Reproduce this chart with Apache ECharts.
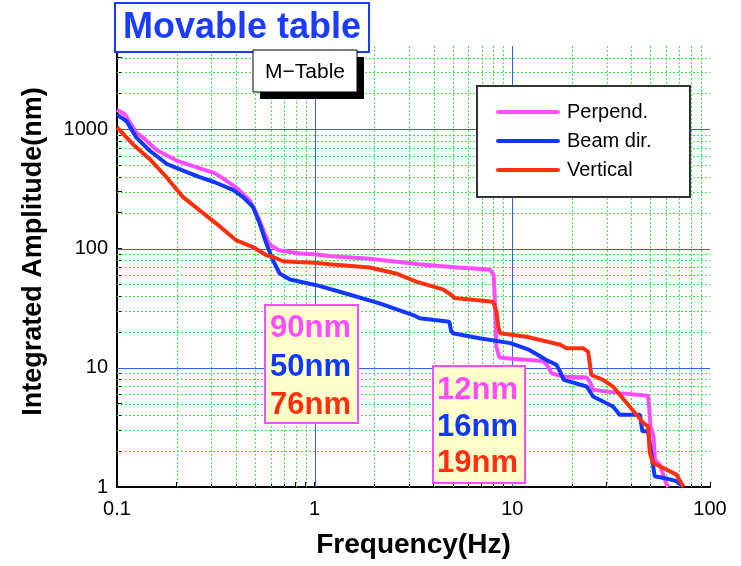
<!DOCTYPE html>
<html>
<head>
<meta charset="utf-8">
<script src="https://cdn.jsdelivr.net/npm/echarts@6/dist/echarts.min.js"></script>
<style>
  html, body { margin: 0; padding: 0; background: #fff; }
  #chart { width: 741px; height: 566px; }
</style>
</head>
<body>
<div id="chart"></div>
<script>
// Integrated amplitude spectra of the movable table (three directions)
const perpFreq = [0.1, 0.109, 0.125, 0.135, 0.158, 0.2, 0.252, 0.312, 0.357, 0.402, 0.47, 0.517, 0.559, 0.594, 0.66, 0.842, 1.0, 1.19, 1.9, 3.38, 5.3, 7.7, 8.05, 8.2, 8.3, 8.6, 10, 14.3, 15.0, 15.8, 18.2, 23.8, 24.8, 25.6, 34.9, 48.6, 49.3, 50, 51.8, 52.6, 55.6, 60, 61.4];
const perpAmp  = [1460, 1346, 944, 857, 673, 547, 481, 429, 372, 324, 253, 184, 133, 107, 96.8, 90.8, 89.5, 86.7, 82, 74, 69.5, 66.7, 60, 30, 15, 12.2, 11.9, 11.4, 10.5, 9.0, 8.43, 8.3, 7.5, 6.53, 6.13, 5.82, 4.5, 3.22, 2.66, 1.70, 1.54, 1.08, 1.0];

const beamFreq = [0.1, 0.112, 0.125, 0.146, 0.178, 0.216, 0.262, 0.312, 0.386, 0.434, 0.488, 0.527, 0.57, 0.615, 0.665, 0.75, 1.02, 1.34, 2.13, 3.15, 3.4, 4.8, 4.9, 5.0, 6.83, 9.78, 12.2, 14.8, 16.7, 17.5, 18.2, 23.8, 25.6, 32.3, 34.9, 44.2, 45.5, 48.6, 50.5, 52.5, 60, 67.6, 73.5];
const beamAmp  = [1327, 1166, 857, 664, 514, 451, 397, 360, 311, 270, 223, 162, 110, 79.8, 61.8, 55, 49.3, 43.4, 34.7, 27.7, 26, 24.3, 20.5, 19.5, 17.7, 16.1, 14.1, 11.66, 10.6, 9.2, 7.92, 6.96, 5.74, 4.73, 4.04, 4.04, 2.93, 2.93, 1.9, 1.23, 1.18, 1.12, 1.0];

const vertFreq = [0.1, 0.12, 0.146, 0.178, 0.216, 0.262, 0.318, 0.402, 0.488, 0.57, 0.616, 0.692, 0.81, 1.0, 1.19, 1.9, 2.58, 3.29, 4.46, 4.9, 5.1, 6.5, 7.99, 8.3, 8.5, 8.67, 11.8, 17.5, 18.8, 22.8, 24.2, 25.1, 28.8, 32.3, 37.9, 46.1, 48.6, 49.6, 51.5, 57.7, 67.6, 73.5];
const vertAmp  = [1040, 755, 565, 397, 270, 209, 162, 117, 103, 87.9, 85, 78.3, 77.2, 76, 74, 69.4, 61.8, 52.6, 45.4, 41, 38.5, 37, 35.8, 30, 22, 19.5, 18.2, 15.6, 14.6, 14.6, 13.6, 8.7, 7.92, 6.96, 5.07, 3.44, 3.22, 1.93, 1.59, 1.45, 1.27, 1.0];

const seriesNames = ['Perpend.', 'Beam dir.', 'Vertical'];
const seriesColors = ['#ff4cff', '#1038ff', '#ff3010'];

// Axis ticks and labels
const xTickValues = [0.1, 0.2, 0.3, 0.4, 0.5, 0.6, 0.7, 0.8, 0.9, 1, 2, 3, 4, 5, 6, 7, 8, 9, 10, 20, 30, 40, 50, 60, 70, 80, 90, 100];
const xLabelValues = [0.1, 1, 10, 100];
const xMajorGrid = [1, 10];
const yTickValues = [1, 2, 3, 4, 5, 6, 7, 8, 9, 10, 20, 30, 40, 50, 60, 70, 80, 90, 100, 200, 300, 400, 500, 600, 700, 800, 900, 1000, 2000, 3000, 4000, 5000];
const yLabelValues = [1, 10, 100, 1000];
const yMajorGrid = [10, 100, 1000];

// Annotated amplitudes at 1 Hz and 10 Hz
const at1HzLabels = ['90nm', '50nm', '76nm'];
const at10HzLabels = ['12nm', '16nm', '19nm'];

const X_MIN = 0.1, X_MAX = 100, Y_MIN = 1, Y_MAX = 5000;

const xMinorGrid = xTickValues.filter(v => v !== X_MIN && v !== X_MAX && xMajorGrid.indexOf(v) < 0);
const yMinorGrid = yTickValues.filter(v => v !== Y_MIN && v !== Y_MAX && yMajorGrid.indexOf(v) < 0);

const FONT = 'Liberation Sans, Arial, sans-serif';

function pairs(fs, vs) { return fs.map((f, i) => [f, vs[i]]); }

// Grid lines as a custom series: [x, y, orientation] (0 = vertical at x, 1 = horizontal at y)
function gridLines(name, xs, ys, color, dash) {
  const data = xs.map(v => [v, Y_MIN, 0]).concat(ys.map(v => [X_MIN, v, 1]));
  return {
    name: name, type: 'custom', z: 1, silent: true, animation: false,
    encode: { x: 0, y: 1 },
    data: data,
    renderItem: function (params, api) {
      const cs = params.coordSys;
      let shape;
      if (api.value(2) === 0) {
        const x = Math.round(api.coord([api.value(0), Y_MIN])[0]) + 0.5;
        shape = { x1: x, y1: cs.y, x2: x, y2: cs.y + cs.height };
      } else {
        const y = Math.round(api.coord([X_MIN, api.value(1)])[1]) + 0.5;
        shape = { x1: cs.x, y1: y, x2: cs.x + cs.width, y2: y };
      }
      return { type: 'line', shape: shape, style: { stroke: color, lineWidth: 1, lineDash: dash } };
    }
  };
}

const dataSeries = [
  pairs(perpFreq, perpAmp),
  pairs(beamFreq, beamAmp),
  pairs(vertFreq, vertAmp)
].map((d, i) => ({
  name: seriesNames[i], type: 'line', data: d, z: 3,
  symbol: 'none', showSymbol: false, animation: false, clip: true,
  lineStyle: { width: 4, color: seriesColors[i] },
  itemStyle: { color: seriesColors[i] }
}));

function valueBox(x, y, w, h, texts, textX, textYs) {
  const children = [{
    type: 'rect', zlevel: 1, z: 20, shape: { x: x, y: y, width: w, height: h },
    style: { fill: '#ffffcc', stroke: '#ff4cff', lineWidth: 2 }
  }];
  texts.forEach((t, i) => children.push({
    type: 'text', zlevel: 1, z: 21,
    style: { x: textX, y: textYs[i], text: t, fill: seriesColors[i], fontFamily: FONT, fontWeight: 'bold', fontSize: 31, align: 'left', verticalAlign: 'middle' }
  }));
  return { type: 'group', zlevel: 1, z: 20, children: children };
}

// Legend frame with a line sample and name per series
function legendBox(x, y, w, h, lineX1, lineX2, textX, rowYs) {
  const children = [{
    type: 'rect', zlevel: 1, z: 20, shape: { x: x, y: y, width: w, height: h },
    style: { fill: '#fff', stroke: '#333', lineWidth: 2 }
  }];
  seriesNames.forEach((name, i) => {
    children.push({
      type: 'line', zlevel: 1, z: 21, shape: { x1: lineX1, y1: rowYs[i], x2: lineX2, y2: rowYs[i] },
      style: { stroke: seriesColors[i], lineWidth: 4, lineCap: 'round' }
    });
    children.push({
      type: 'text', zlevel: 1, z: 21,
      style: { x: textX, y: rowYs[i], text: name, fill: '#000', fontFamily: FONT, fontSize: 20, align: 'left', verticalAlign: 'middle' }
    });
  });
  return { type: 'group', zlevel: 1, z: 20, children: children };
}

const chart = echarts.init(document.getElementById('chart'), null, { renderer: 'canvas' });
chart.setOption({
  backgroundColor: '#fff',
  animation: false,
  title: {
    text: 'Movable table', left: 115, top: 3, padding: [7, 8, 6, 8],
    borderColor: '#1a3cff', borderWidth: 2, backgroundColor: '#fff', z: 10,
    textStyle: { fontFamily: FONT, fontWeight: 'bold', fontSize: 36, color: '#1a3cff' }
  },
  grid: { left: 117, right: 31, top: 46, bottom: 79, containLabel: false },
  xAxis: {
    type: 'log', logBase: 10, min: X_MIN, max: X_MAX,
    name: 'Frequency(Hz)', nameLocation: 'middle', nameGap: 44,
    nameTextStyle: { fontFamily: FONT, fontWeight: 'bold', fontSize: 28, color: '#000' },
    axisLine: { lineStyle: { color: '#000', width: 2 } },
    axisTick: { inside: true, length: 5, customValues: xTickValues, lineStyle: { color: '#000', width: 1 } },
    axisLabel: { customValues: xLabelValues, margin: 12, fontFamily: FONT, fontSize: 20, color: '#000', formatter: v => String(v) },
    splitLine: { show: false }, minorTick: { show: false }, minorSplitLine: { show: false }
  },
  yAxis: {
    type: 'log', logBase: 10, min: Y_MIN, max: Y_MAX,
    name: 'Integrated Amplitude(nm)', nameLocation: 'middle', nameGap: 70,
    nameTextStyle: { fontFamily: FONT, fontWeight: 'bold', fontSize: 27, color: '#000', padding: [0, 0, 0, 30] },
    axisLine: { lineStyle: { color: '#000', width: 2 } },
    axisTick: { inside: true, length: 5, customValues: yTickValues, lineStyle: { color: '#000', width: 1 } },
    axisLabel: { customValues: yLabelValues, margin: 9, fontFamily: FONT, fontSize: 20, color: '#000', formatter: v => String(v) },
    splitLine: { show: false }, minorTick: { show: false }, minorSplitLine: { show: false }
  },
  series: [
    gridLines('minorGrid', xMinorGrid, yMinorGrid, '#44e644', [2, 2]),
    gridLines('majorGrid', xMajorGrid, yMajorGrid, '#3a5cf5', null)
  ].concat(dataSeries),
  graphic: [
    {
      type: 'group', zlevel: 1, z: 12,
      children: [
        { type: 'rect', zlevel: 1, z: 12, shape: { x: 260, y: 57, width: 104, height: 42 }, style: { fill: '#000' } },
        { type: 'rect', zlevel: 1, z: 13, shape: { x: 253, y: 50, width: 104, height: 42 }, style: { fill: '#fff', stroke: '#000', lineWidth: 1 } },
        { type: 'text', zlevel: 1, z: 14, style: { x: 305, y: 72, text: 'M\u2212Table', fill: '#000', fontFamily: FONT, fontSize: 21, align: 'center', verticalAlign: 'middle' } }
      ]
    },
    legendBox(477, 86, 213, 111, 498, 558, 567, [112, 141, 170]),
    valueBox(265, 305, 93, 118, at1HzLabels, 270, [328, 367, 405]),
    valueBox(433, 366, 92, 117, at10HzLabels, 437, [390, 427, 463])
  ]
});
</script>
</body>
</html>
